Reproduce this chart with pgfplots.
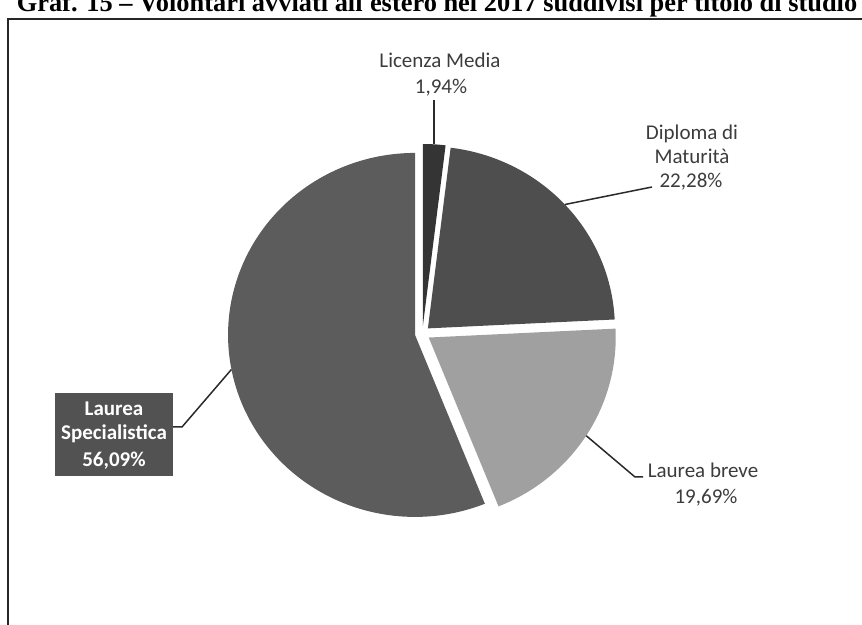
\documentclass[border=0pt]{standalone}
\usepackage{pgfplots}
\pgfplotsset{compat=1.18}
\usepackage{fontspec}
\setmainfont{Carlito}
\newfontfamily\titlefont{Liberation Serif}
\definecolor{cLic}{HTML}{343434}
\definecolor{cDip}{HTML}{4E4E4E}
\definecolor{cBre}{HTML}{A0A0A0}
\definecolor{cSpe}{HTML}{5C5C5C}
\definecolor{cBox}{HTML}{525252}
\definecolor{cTxt}{HTML}{3C3C3C}
\definecolor{cLine}{HTML}{2A2A2A}
% data (percent)
\def\pLic{1.94}
\def\pDip{22.28}
\def\pBre{19.69}
\def\pSpe{56.09}
% geometry (pixel units)
\def\cx{422.4}
\def\cy{291.5}
\def\Rx{187}
\def\Ry{182}
\def\dd{7.5}
\newcommand{\slice}[3]{%
 \pgfmathsetmacro\bis{(#1+#2)/2}%
 \pgfmathsetmacro\ox{\cx+\dd*cos(\bis)}%
 \pgfmathsetmacro\oy{\cy+\dd*sin(\bis)}%
 \edef\doslice{\noexpand\addplot[fill=#3, draw=none, domain=#2:#1, samples=150] ({\ox+\Rx*cos(x)},{\oy+\Ry*sin(x)}) -- (axis cs:\ox,\oy) -- cycle;}%
 \doslice}
\begin{document}
\begin{tikzpicture}
\begin{axis}[width=431pt, height=312.5pt, scale only axis,
  xmin=0, xmax=862, ymin=0, ymax=625, hide axis, clip=false]
\coordinate (BL) at (axis cs:0,0);
\coordinate (TR) at (axis cs:862,625);
% frame
\draw[line width=1.1pt, color=black!85] (axis cs:8,-30) -- (axis cs:8,606) -- (axis cs:900,606);
% title
\node[anchor=base, font=\titlefont\bfseries\fontsize{13.2}{15}\selectfont] at (axis cs:437,613)
  {Graf. 15 – Volontari avviati all'estero nel 2017 suddivisi per titolo di studio};
% slices
\pgfmathsetmacro\aA{90}
\pgfmathsetmacro\aB{\aA-3.6*\pLic}
\pgfmathsetmacro\aC{\aB-3.6*\pDip}
\pgfmathsetmacro\aD{\aC-3.6*\pBre}
\pgfmathsetmacro\aE{\aD-3.6*\pSpe}
\slice{\aA}{\aB}{cLic}
\slice{\aB}{\aC}{cDip}
\slice{\aC}{\aD}{cBre}
\slice{\aD}{\aE}{cSpe}
% leader lines
\addplot[cLine, line width=0.75pt] coordinates {(434,481) (434,525)};
\addplot[cLine, line width=0.75pt] coordinates {(565,420.5) (652,438)};
\addplot[cLine, line width=0.75pt] coordinates {(586.2,189.3) (635,148) (643,148)};
\addplot[cLine, line width=0.75pt] coordinates {(173,198) (182,198) (231.4,255.5)};
% labels
\begin{scope}[every node/.style={anchor=base, text=cTxt, font=\fontsize{10.5}{12.6}\selectfont}]
\node at (axis cs:440,557) {Licenza Media};
\node at (axis cs:441,531) {1,94\%};
\node at (axis cs:692,485) {Diploma di};
\node at (axis cs:692,461) {Maturità};
\node at (axis cs:691,437) {22,28\%};
\node at (axis cs:703,147) {Laurea breve};
\node at (axis cs:706,121) {19,69\%};
\end{scope}
\node[fill=cBox, minimum width=59pt, minimum height=41.5pt, inner sep=0pt] at (axis cs:114,190.5) {};
\begin{scope}[every node/.style={anchor=base, text=white, font=\bfseries\fontsize{10.5}{12.6}\selectfont}]
\node at (axis cs:114,209) {Laurea};
\node at (axis cs:114,185) {Specialistica};
\node at (axis cs:114,158) {56,09\%};
\end{scope}
\end{axis}
\pgfresetboundingbox
\useasboundingbox (BL) rectangle (TR);
\end{tikzpicture}
\end{document}
